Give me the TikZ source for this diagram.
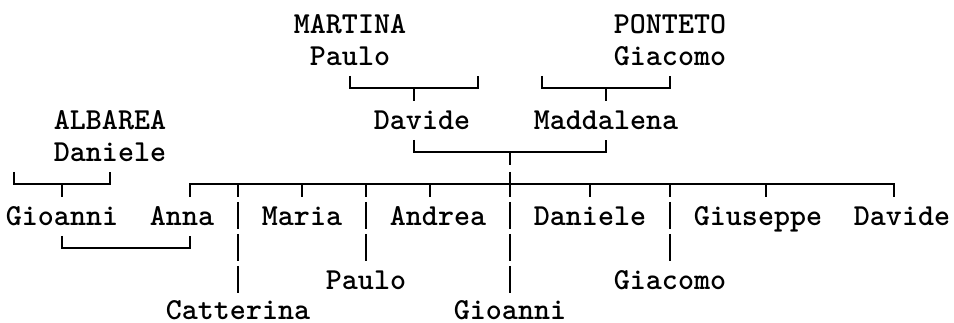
\documentclass[tikz,border=0pt]{standalone}
\usepackage{fontspec}
\newfontfamily\treefont{lmmonolt10-bold.otf}
\usetikzlibrary{calc}

\begin{document}
\begin{tikzpicture}[
        x=1pt, y=-1pt,
        person/.style={
            font=\treefont\fontsize{30.5}{30.5}\selectfont,
            inner sep=0pt, anchor=base
        },
        link/.style={line width=1.8pt},
        knot/.style={link, dash pattern=on 12.5pt off 7pt},
        drop/.style={link, dash pattern=on 27pt off 5pt, dash phase=14.5pt}
    ]
    \useasboundingbox (0,0) rectangle (954,322);

    % levels of the rows
    \coordinate (t3) at (0,75.8);  \coordinate (r3) at (0,88.3);  \coordinate (b3) at (0,100.8);
    \coordinate (t5) at (0,139.8); \coordinate (r5) at (0,152.3);
    \coordinate (t6) at (0,171.8); \coordinate (r6) at (0,184.3); \coordinate (b6) at (0,196.8);
    \coordinate (t8) at (0,235.8); \coordinate (r8) at (0,248.3);
    \coordinate (e8) at (0,261.8); \coordinate (e9) at (0,293.8);

    \node[person] (martina)   at (350,33)  {MARTINA};
    \node[person] (paulo1)    at (350,65)  {Paulo};
    \node[person] (ponteto)   at (670,33)  {PONTETO};
    \node[person] (giacomo1)  at (670,65)  {Giacomo};
    \node[person] (albarea)   at (110,129) {ALBAREA};
    \node[person] (daniele1)  at (110,161) {Daniele};
    \node[person] (davide1)   at (422,129) {Davide};
    \node[person] (maddalena) at (606,129) {Maddalena};

    \node[person] (gioanni1)  at (62,225)  {Gioanni};
    \node[person] (anna)      at (182,225) {Anna};
    \node[person] (maria)     at (302,225) {Maria};
    \node[person] (andrea)    at (438,225) {Andrea};
    \node[person] (daniele2)  at (590,225) {Daniele};
    \node[person] (giuseppe)  at (758,225) {Giuseppe};
    \node[person] (davide2)   at (902,225) {Davide};
    \node[person] (paulo2)    at (366,289) {Paulo};
    \node[person] (giacomo2)  at (670,289) {Giacomo};
    \node[person] (catterina) at (238,319.8) {Catterina};
    \node[person] (gioanni2)  at (510,319.8) {Gioanni};

    % where the lines meet a name off its middle
    \coordinate (dvj) at ([xshift=-8pt]davide1.base);
    \coordinate (anj) at ([xshift=8pt]anna.base);
    \coordinate (adj) at ([xshift=-8pt]andrea.base);
    \coordinate (gpj) at ([xshift=8pt]giuseppe.base);
    \coordinate (dwj) at ([xshift=-8pt]davide2.base);
    % spouses with no name
    \coordinate (wifeM) at (478,75.8);
    \coordinate (wifeP) at (542,75.8);
    \coordinate (wifeA) at (14,171.8);

    \draw[link] (paulo1 |- t3) |- (wifeM |- r3) -- (wifeM);
    \draw[link] (dvj |- r3) -- (dvj |- b3);
    \draw[link] (wifeP) |- (giacomo1 |- r3) -- (giacomo1 |- t3);
    \draw[link] (maddalena |- r3) -- (maddalena |- b3);

    \draw[link] (dvj |- t5) |- (maddalena |- r5) -- (maddalena |- t5);
    \draw[knot] (gioanni2 |- r5) -- (gioanni2 |- r6);
    \draw[link] (anj |- b6) |- (dwj |- r6) -- (dwj |- b6);
    \foreach \n in {maria, adj, daniele2, gpj}
        \draw[link] (\n |- r6) -- (\n |- b6);
    \foreach \n in {catterina, gioanni2}
        \draw[drop] (\n |- r6) -- (\n |- e9);
    \foreach \n in {paulo2, giacomo2}
        \draw[drop] (\n |- r6) -- (\n |- e8);

    \draw[link] (wifeA) |- (daniele1 |- r6) -- (daniele1 |- t6);
    \draw[link] (gioanni1 |- r6) -- (gioanni1 |- b6);
    \draw[link] (gioanni1 |- t8) |- (anj |- r8) -- (anj |- t8);
\end{tikzpicture}
\end{document}
